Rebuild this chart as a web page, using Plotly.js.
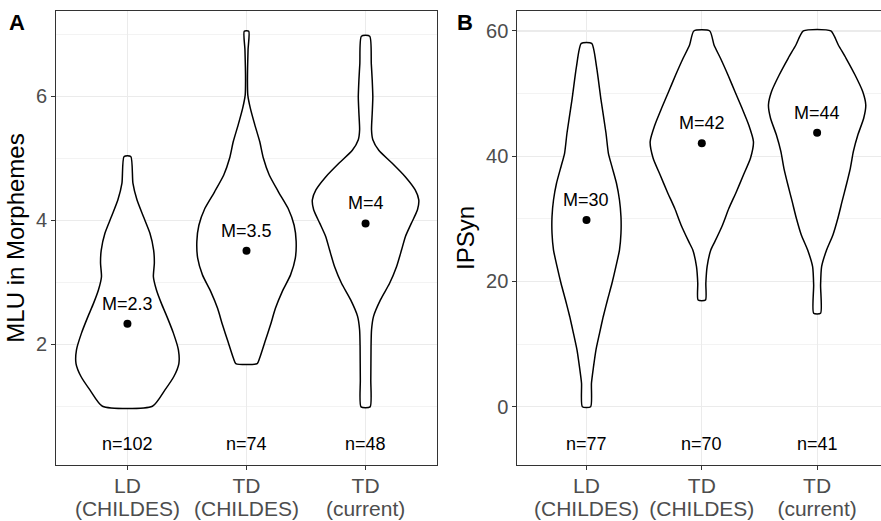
<!DOCTYPE html>
<html>
<head>
<meta charset="utf-8">
<script src="https://cdn.plot.ly/plotly-3.0.1.min.js"></script>
<style>html,body{margin:0;padding:0;background:#fff;}#chart{width:881px;height:521px;}</style>
</head>
<body>
<div id="chart"></div>
<script>
// ---------- DATA ----------
const categories = [["LD", "(CHILDES)"], ["TD", "(CHILDES)"], ["TD", "(current)"]];

// Panel A: MLU in Morphemes
const mluMeans = [2.33, 3.51, 3.95];
const mluMeanLabels = ["M=2.3", "M=3.5", "M=4"];
const mluN = ["n=102", "n=74", "n=48"];
// violin profiles: y values and half-widths (category units)
const mluLD_y = [5.03, 4.60, 4.33, 4.06, 3.79, 3.52, 3.31, 3.09, 2.88, 2.66, 2.45, 2.18, 1.91, 1.69, 1.48, 1.26, 1.00];
const mluLD_w = [0.028, 0.046, 0.080, 0.134, 0.189, 0.220, 0.226, 0.218, 0.243, 0.285, 0.331, 0.386, 0.428, 0.432, 0.390, 0.314, 0.210];
const mluTDC_y = [7.05, 6.75, 6.26, 6.02, 5.81, 5.54, 5.27, 5.00, 4.73, 4.46, 4.19, 3.92, 3.66, 3.39, 3.12, 2.85, 2.58, 2.31, 2.04, 1.77, 1.69];
const mluTDC_w = [0.019, 0.013, 0.008, 0.011, 0.032, 0.070, 0.111, 0.142, 0.191, 0.268, 0.350, 0.400, 0.417, 0.410, 0.370, 0.300, 0.243, 0.201, 0.155, 0.109, 0.090];
const mluTDN_y = [6.97, 6.53, 6.26, 5.99, 5.73, 5.46, 5.30, 5.13, 4.92, 4.70, 4.49, 4.33, 4.17, 3.95, 3.74, 3.52, 3.25, 2.98, 2.72, 2.45, 2.23, 1.96, 1.42, 0.99];
const mluTDN_w = [0.035, 0.048, 0.056, 0.061, 0.056, 0.050, 0.061, 0.111, 0.224, 0.335, 0.417, 0.447, 0.436, 0.384, 0.335, 0.302, 0.260, 0.201, 0.126, 0.067, 0.050, 0.046, 0.044, 0.038];
const mluNLabelY = 0.39;

// Panel B: IPSyn
const ipsMeans = [29.8, 42.06, 43.76];
const ipsMeanLabels = ["M=30", "M=42", "M=44"];
const ipsN = ["n=77", "n=70", "n=41"];
const ipsLD_y = [58.03, 54.30, 48.98, 43.71, 40.47, 38.33, 35.68, 33.01, 30.34, 27.69, 25.02, 22.36, 19.71, 17.04, 14.37, 11.72, 9.05, 6.39, 3.74, 0.0];
const ipsLD_w = [0.045, 0.087, 0.126, 0.169, 0.190, 0.221, 0.260, 0.286, 0.299, 0.299, 0.286, 0.255, 0.221, 0.182, 0.145, 0.113, 0.082, 0.061, 0.043, 0.036];
const ipsTDC_y = [60.0, 57.76, 55.64, 52.97, 50.30, 47.65, 44.99, 42.32, 39.67, 37.00, 34.33, 31.68, 29.02, 26.35, 25.02, 22.36, 19.71, 17.04];
const ipsTDC_w = [0.069, 0.106, 0.162, 0.227, 0.288, 0.349, 0.407, 0.448, 0.422, 0.361, 0.300, 0.235, 0.180, 0.113, 0.078, 0.046, 0.035, 0.032];
const ipsTDN_y = [60.0, 57.76, 55.64, 52.97, 50.30, 48.18, 46.06, 43.39, 40.72, 38.07, 35.40, 32.74, 30.09, 27.42, 25.02, 22.36, 19.43, 14.92];
const ipsTDN_w = [0.119, 0.184, 0.251, 0.329, 0.396, 0.422, 0.404, 0.353, 0.314, 0.288, 0.253, 0.216, 0.180, 0.137, 0.082, 0.039, 0.030, 0.030];
const ipsNLabelY = -6;

// ---------- BUILD ----------
const FONT = "Liberation Sans, Arial, Helvetica, sans-serif";

function violin(center, ys, ws, xa, ya) {
  const x = [], y = [];
  for (let i = 0; i < ys.length; i++) { x.push(center - ws[i]); y.push(ys[i]); }
  for (let i = ys.length - 1; i >= 0; i--) { x.push(center + ws[i]); y.push(ys[i]); }
  x.push(x[0]); y.push(y[0]);
  return {
    type: 'scatter', mode: 'lines', x: x, y: y, xaxis: xa, yaxis: ya,
    fill: 'toself', fillcolor: 'rgba(255,255,255,1)',
    line: {color: '#000000', width: 1.5, shape: 'spline', smoothing: 0.6},
    hoverinfo: 'skip', showlegend: false
  };
}

const pos = categories.map((c, i) => i + 1);
const tickText = categories.map(lines => lines.map(s => '<span style="font-size:21px">' + s + '</span>').join('<br>'));

const traces = [
  violin(pos[0], mluLD_y, mluLD_w, 'x', 'y'),
  violin(pos[1], mluTDC_y, mluTDC_w, 'x', 'y'),
  violin(pos[2], mluTDN_y, mluTDN_w, 'x', 'y'),
  violin(pos[0], ipsLD_y, ipsLD_w, 'x2', 'y2'),
  violin(pos[1], ipsTDC_y, ipsTDC_w, 'x2', 'y2'),
  violin(pos[2], ipsTDN_y, ipsTDN_w, 'x2', 'y2'),
  {type: 'scatter', mode: 'markers', x: pos, y: mluMeans, xaxis: 'x', yaxis: 'y',
   marker: {color: '#000', size: 8}, showlegend: false, hoverinfo: 'skip'},
  {type: 'scatter', mode: 'markers', x: pos, y: ipsMeans, xaxis: 'x2', yaxis: 'y2',
   marker: {color: '#000', size: 8}, showlegend: false, hoverinfo: 'skip'}
];

const annotations = [];
function addLabels(xr, yr, means, labels, ns, nY) {
  for (let i = 0; i < means.length; i++) {
    annotations.push({xref: xr, yref: yr, x: pos[i], y: means[i], text: labels[i], showarrow: false,
      yanchor: 'middle', yshift: 20, font: {family: FONT, size: 18, color: '#000'}});
    annotations.push({xref: xr, yref: yr, x: pos[i], y: nY, text: ns[i], showarrow: false,
      yanchor: 'middle', font: {family: FONT, size: 18, color: '#000'}});
  }
}
addLabels('x', 'y', mluMeans, mluMeanLabels, mluN, mluNLabelY);
addLabels('x2', 'y2', ipsMeans, ipsMeanLabels, ipsN, ipsNLabelY);
annotations.push({xref: 'paper', yref: 'paper', x: 7 / 881, y: 1 - 8 / 521, xanchor: 'left', yanchor: 'top',
  text: '<b>A</b>', showarrow: false, font: {family: FONT, size: 22, color: '#000'}});
annotations.push({xref: 'paper', yref: 'paper', x: 455 / 881, y: 1 - 8 / 521, xanchor: 'left', yanchor: 'top',
  text: '<b>B</b>', showarrow: false, font: {family: FONT, size: 22, color: '#000'}});

const GRID = '#EBEBEB';
const LINE = '#333333';
const tickFont = {family: FONT, size: 20, color: '#4D4D4D'};

function xax(domain, range, mirror) {
  return {domain: domain, range: range, tickvals: pos, ticktext: tickText,
    tickfont: {family: FONT, size: 17, color: '#4D4D4D'}, ticklabelstandoff: 3,
    showgrid: true, gridcolor: GRID, gridwidth: 1.1, zeroline: false,
    showline: true, linecolor: LINE, linewidth: 1, mirror: mirror,
    ticks: 'outside', ticklen: 4, tickcolor: LINE, tickwidth: 1, automargin: false, fixedrange: true};
}
function yax(domain, range, tv, minorTv, title, mirror, anchor) {
  return {domain: domain, range: range, tickvals: tv, ticktext: tv.map(String), tickfont: tickFont,
    showgrid: true, gridcolor: GRID, gridwidth: 1.1, zeroline: false,
    minor: {tickvals: minorTv, showgrid: true, gridcolor: '#EEEEEE', gridwidth: 0.7, ticklen: 0},
    showline: true, linecolor: LINE, linewidth: 1, mirror: mirror, anchor: anchor,
    ticks: 'outside', ticklen: 4, tickcolor: LINE, tickwidth: 1, automargin: false, fixedrange: true,
    title: {text: title, font: {family: FONT, size: 24, color: '#000'}, standoff: 4}};
}

const yDom = [1 - 465 / 521, 1 - 11 / 521];
const layout = {
  width: 881, height: 521,
  margin: {l: 0, r: 0, t: 0, b: 0},
  paper_bgcolor: '#fff', plot_bgcolor: '#fff',
  showlegend: false,
  font: {family: FONT},
  xaxis: Object.assign(xax([56 / 881, 437 / 881], [0.4, 3.6], true), {anchor: 'y'}),
  yaxis: yax(yDom, [0.053, 7.376], [2, 4, 6], [1, 3, 5, 7], 'MLU in Morphemes', true, 'x'),
  xaxis2: Object.assign(xax([517.3 / 881, 1], [0.4, 3.554], true), {anchor: 'y2'}),
  yaxis2: yax(yDom, [-9.31, 63.19], [0, 20, 40, 60], [10, 30, 50], 'IPSyn', false, 'x2'),
  annotations: annotations
};

Plotly.newPlot('chart', traces, layout, {staticPlot: true, displayModeBar: false});
</script>
</body>
</html>
